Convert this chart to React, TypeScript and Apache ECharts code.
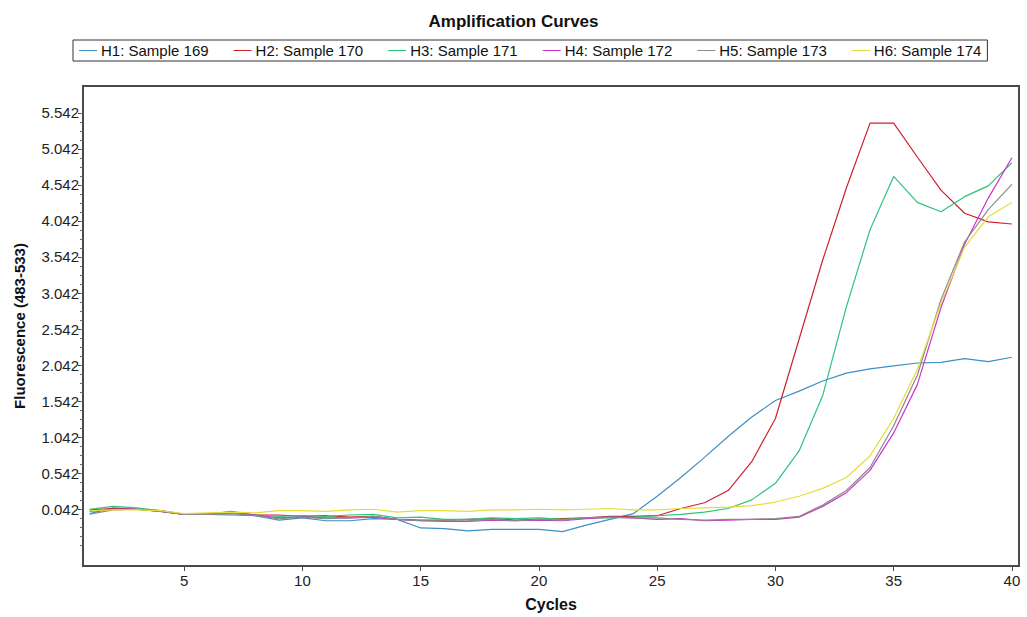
import React, { useEffect, useRef } from "react";
import * as echarts from "echarts";

const cycles = Array.from({ length: 40 }, (_, i) => i + 1);

const seriesNames = [
  "H1: Sample 169",
  "H2: Sample 170",
  "H3: Sample 171",
  "H4: Sample 172",
  "H5: Sample 173",
  "H6: Sample 174",
];

const seriesColors = ["#3d8fc4", "#d0202c", "#2cc47c", "#cc33cc", "#8a8a8a", "#e6dc3c"];

const h1 = [
  -0.02, 0.06, 0.04, 0.01, -0.03, -0.03, -0.04, -0.05, -0.11, -0.08,
  -0.12, -0.12, -0.09, -0.1, -0.22, -0.23, -0.26, -0.24, -0.24, -0.24,
  -0.27, -0.18, -0.1, -0.02, 0.22, 0.48, 0.76, 1.05, 1.32, 1.55,
  1.68, 1.82, 1.93, 1.99, 2.03, 2.07, 2.08, 2.13, 2.09, 2.15,
];
const h2 = [
  0.03, 0.05, 0.04, 0.01, -0.03, -0.02, 0.0, -0.04, -0.04, -0.06,
  -0.05, -0.07, -0.06, -0.1, -0.11, -0.11, -0.1, -0.09, -0.11, -0.1,
  -0.09, -0.08, -0.06, -0.06, -0.05, 0.05, 0.13, 0.3, 0.7, 1.3,
  2.4, 3.5, 4.5, 5.4, 5.4, 4.93, 4.47, 4.15, 4.03, 4.0,
];
const h3 = [
  0.04, 0.08, 0.06, 0.02, -0.03, -0.03, -0.01, -0.04, -0.06, -0.05,
  -0.06, -0.04, -0.03, -0.08, -0.07, -0.1, -0.1, -0.08, -0.09, -0.08,
  -0.1, -0.08, -0.08, -0.07, -0.05, -0.03, 0.0, 0.05, 0.17, 0.4,
  0.85, 1.62, 2.85, 3.92, 4.66, 4.3, 4.17, 4.38, 4.53, 4.85,
];
const h4 = [
  0.01, 0.04, 0.04, 0.02, -0.03, -0.03, 0.01, -0.04, -0.08, -0.07,
  -0.08, -0.08, -0.07, -0.1, -0.12, -0.13, -0.13, -0.11, -0.12, -0.11,
  -0.12, -0.09, -0.07, -0.08, -0.1, -0.09, -0.12, -0.11, -0.1, -0.1,
  -0.07, 0.08, 0.27, 0.58, 1.1, 1.77, 2.84, 3.72, 4.36, 4.92,
];
const h5 = [
  -0.03, 0.03, 0.04, 0.01, -0.03, -0.03, -0.02, -0.05, -0.09, -0.07,
  -0.09, -0.08, -0.06, -0.1, -0.12, -0.12, -0.12, -0.1, -0.12, -0.1,
  -0.11, -0.08, -0.07, -0.08, -0.08, -0.1, -0.11, -0.1, -0.1, -0.09,
  -0.06, 0.1, 0.3, 0.62, 1.2, 1.9, 2.95, 3.75, 4.2, 4.55,
];
const h6 = [
  0.02, 0.03, 0.03, 0.02, -0.02, -0.01, 0.0, -0.01, 0.02, 0.02,
  0.01, 0.03, 0.04, 0.0, 0.02, 0.02, 0.01, 0.03, 0.03, 0.04,
  0.03, 0.04, 0.05, 0.03, 0.03, 0.05, 0.06, 0.07, 0.09, 0.14,
  0.22, 0.33, 0.48, 0.78, 1.3, 1.98, 2.9, 3.68, 4.1, 4.3,
];
const seriesValues = [h1, h2, h3, h4, h5, h6];

const xTicks = [5, 10, 15, 20, 25, 30, 35, 40];
const yTickLabels = ["0.042", "0.542", "1.042", "1.542", "2.042", "2.542", "3.042", "3.542", "4.042", "4.542", "5.042", "5.542"];
const yMinorTicks = [
  -0.458, -0.333, -0.208, -0.083, 0.042, 0.167, 0.292, 0.417, 0.542, 0.667, 0.792, 0.917,
  1.042, 1.167, 1.292, 1.417, 1.542, 1.667, 1.792, 1.917, 2.042, 2.167, 2.292, 2.417,
  2.542, 2.667, 2.792, 2.917, 3.042, 3.167, 3.292, 3.417, 3.542, 3.667, 3.792, 3.917,
  4.042, 4.167, 4.292, 4.417, 4.542, 4.667, 4.792, 4.917, 5.042, 5.167, 5.292, 5.417, 5.542,
];

const FONT = "'Liberation Sans', Arial, sans-serif";

export default function App() {
  const ref = useRef<HTMLDivElement>(null);
  useEffect(() => {
    if (!ref.current) return;
    const chart = echarts.init(ref.current, undefined, { renderer: "svg" });
    const yVals = yTickLabels.map((s) => parseFloat(s));
    chart.setOption({
      animation: false,
      backgroundColor: "#ffffff",
      textStyle: { fontFamily: FONT },
      title: {
        text: "Amplification Curves",
        left: "center",
        top: 8,
        textStyle: { fontFamily: FONT, fontSize: 17, fontWeight: "bold", color: "#111" },
      },
      legend: {
        left: 73,
        top: 40,
        padding: [3, 6],
        borderColor: "#333",
        borderWidth: 1,
        itemGap: 25,
        itemWidth: 18,
        itemHeight: 1,
        icon: "rect",
        textStyle: { fontFamily: FONT, fontSize: 15, color: "#111", padding: [0, 0, 0, -1] },
        data: seriesNames,
      },
      grid: {
        left: 83,
        top: 86,
        right: 8,
        bottom: 50,
        show: true,
        borderColor: "#4a4a4a",
        borderWidth: 2,
        backgroundColor: "transparent",
      },
      xAxis: [
        {
          type: "value",
          min: 0.72,
          max: 40.3,
          name: "Cycles",
          nameLocation: "middle",
          nameGap: 30,
          nameTextStyle: { fontFamily: FONT, fontSize: 16, fontWeight: "bold", color: "#111" },
          axisLine: { show: true, onZero: false, lineStyle: { color: "#4a4a4a", width: 2 } },
          axisTick: { show: true, customValues: xTicks, length: 5, lineStyle: { color: "#4a4a4a" } },
          axisLabel: { customValues: xTicks, fontFamily: FONT, fontSize: 15, color: "#222", margin: 7 },
          splitLine: { show: false },
        },
      ],
      yAxis: [
        {
          type: "value",
          min: -0.748,
          max: 5.916,
          position: "left",
          name: "Fluorescence (483-533)",
          nameLocation: "middle",
          nameGap: 56,
          nameTextStyle: { fontFamily: FONT, fontSize: 15, fontWeight: "bold", color: "#111" },
          axisLine: { show: true, onZero: false, lineStyle: { color: "#4a4a4a", width: 2 } },
          axisTick: { show: true, customValues: yVals, length: 5, lineStyle: { color: "#4a4a4a" } },
          axisLabel: {
            customValues: yVals,
            formatter: (v: number) => v.toFixed(3),
            fontFamily: FONT,
            fontSize: 15,
            color: "#222",
            margin: 4,
          },
          splitLine: { show: false },
        },
        {
          type: "value",
          min: -0.748,
          max: 5.916,
          position: "left",
          offset: 0,
          axisLine: { show: true, onZero: false, lineStyle: { color: "#4a4a4a", width: 2, opacity: 0 } },
          axisTick: { show: true, customValues: yMinorTicks, length: 3, lineStyle: { color: "#666" } },
          axisLabel: { show: true, customValues: yMinorTicks, formatter: () => "" },
          splitLine: { show: false },
        },
      ],
      series: seriesNames.map((name, i) => ({
        name,
        type: "line",
        data: cycles.map((c, j) => [c, seriesValues[i][j]]),
        showSymbol: false,
        symbol: "none",
        color: seriesColors[i],
        lineStyle: { width: 1.2, color: seriesColors[i] },
        yAxisIndex: 0,
      })),
    });
    return () => chart.dispose();
  }, []);
  return <div ref={ref} style={{ position: "absolute", left: 0, top: 0, width: 1027, height: 617 }} />;
}
